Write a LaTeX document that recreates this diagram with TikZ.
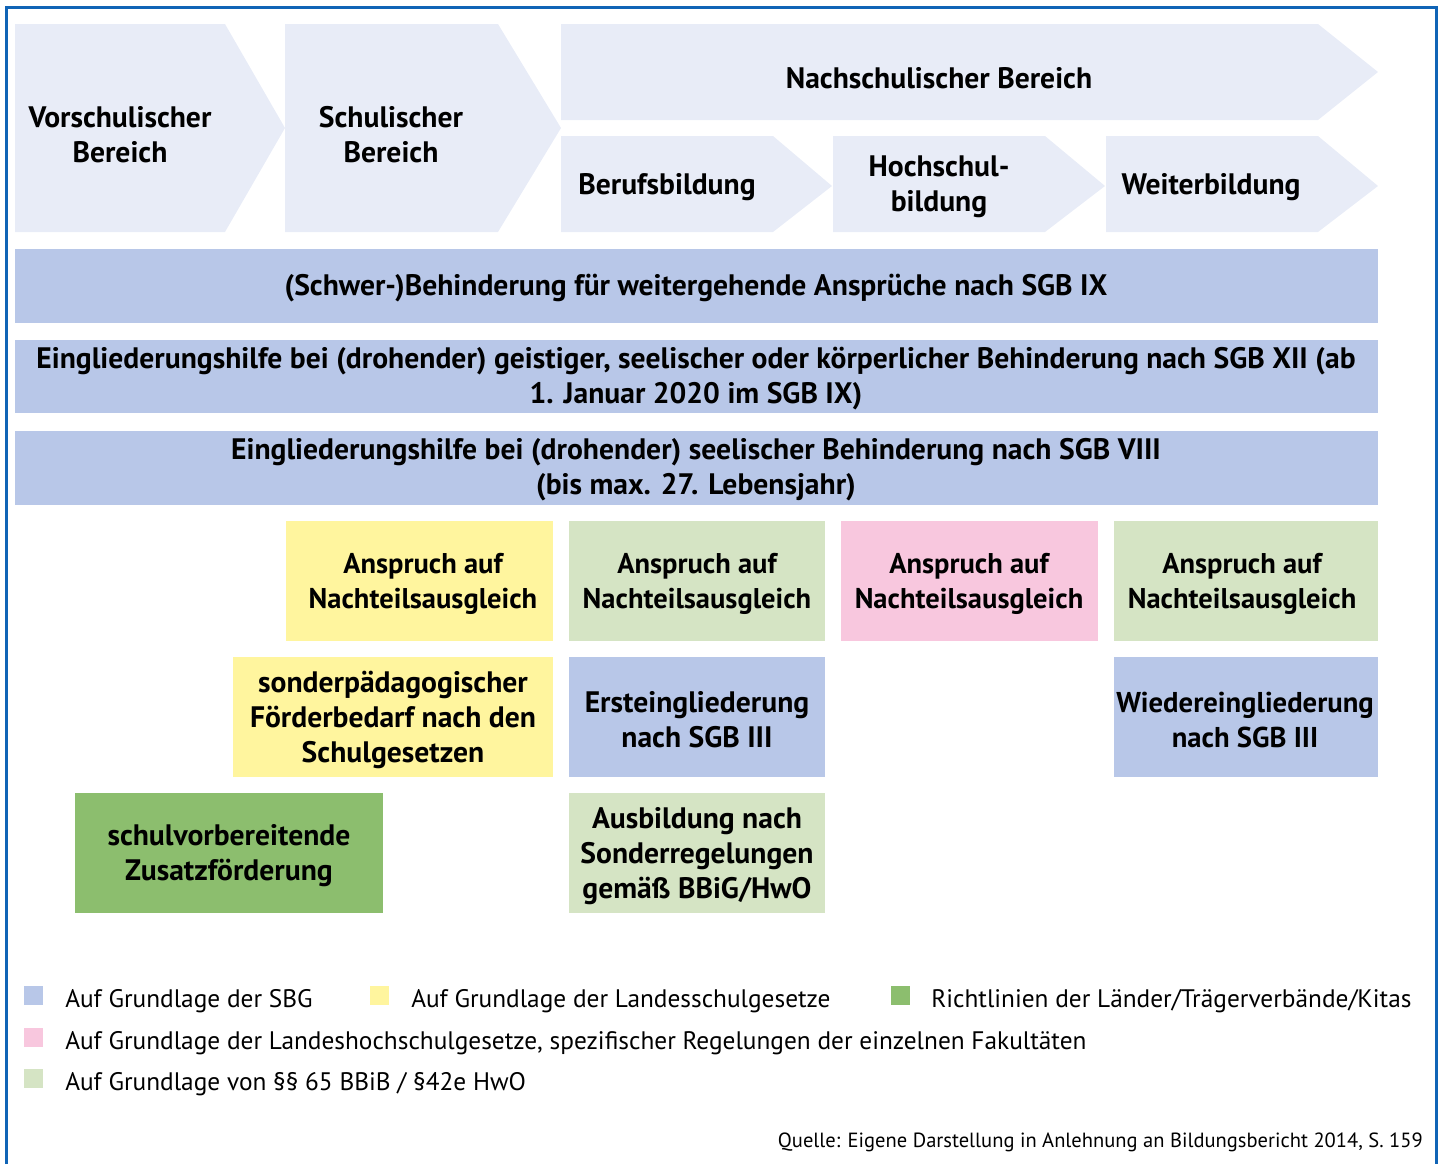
\documentclass[tikz,border=0pt]{standalone}
\usepackage{fontspec}
\setmainfont{PT Sans}
\definecolor{chevron}{RGB}{232,236,247}
\definecolor{sgbblue}{RGB}{184,199,232}
\definecolor{schulgelb}{RGB}{255,245,158}
\definecolor{hellgruen}{RGB}{213,228,196}
\definecolor{rosa}{RGB}{248,199,222}
\definecolor{dunkelgruen}{RGB}{140,190,110}
\definecolor{rahmen}{RGB}{16,100,182}

\begin{document}
\begin{tikzpicture}[x=0.75pt,y=0.75pt,yscale=-1,xscale=1,
  boxtext/.style={font=\bfseries\fontsize{22.2}{26.25}\selectfont, align=center, inner sep=0.75pt},
  ntatext/.style={boxtext, font=\bfseries\fontsize{21.4}{26.25}\selectfont},
  legtext/.style={font=\fontsize{19}{22}\selectfont, anchor=west, inner sep=0.75pt},
  legbox/.style={fill=#1, draw=none}]
\useasboundingbox (0,0) rectangle (1441,1164);

%Straight Lines [frame]
\draw [color=rahmen, line width=2.25]  (6,1164) -- (6,7) -- (1436,7) -- (1436,1164) ;

%Shape: Chevron [Vorschulischer Bereich]
\fill [chevron]  (15,24) -- (225,24) -- (285,128) -- (225,232) -- (15,232) -- cycle ;
%Shape: Chevron [Schulischer Bereich]
\fill [chevron]  (285,24) -- (498,24) -- (561,128) -- (498,232) -- (285,232) -- cycle ;
%Shape: Chevron [Nachschulischer Bereich]
\fill [chevron]  (561,24) -- (1318,24) -- (1378,72) -- (1318,120) -- (561,120) -- cycle ;
%Shape: Chevron [Berufsbildung]
\fill [chevron]  (561,136) -- (773,136) -- (832,186) -- (773,232) -- (561,232) -- cycle ;
%Shape: Chevron [Hochschulbildung]
\fill [chevron]  (833,136) -- (1045,136) -- (1105,186) -- (1045,232) -- (833,232) -- cycle ;
%Shape: Chevron [Weiterbildung]
\fill [chevron]  (1106,136) -- (1318,136) -- (1378,186) -- (1318,232) -- (1106,232) -- cycle ;

%Shape: Rectangle [bars]
\fill [sgbblue]  (15,249) rectangle (1378,323) ;
\fill [sgbblue]  (15,340) rectangle (1378,413) ;
\fill [sgbblue]  (15,431) rectangle (1378,505) ;

%Shape: Rectangle [row 1]
\fill [schulgelb]  (286,521) rectangle (553,641) ;
\fill [hellgruen]  (569,521) rectangle (825,641) ;
\fill [rosa]  (841,521) rectangle (1098,641) ;
\fill [hellgruen]  (1114,521) rectangle (1378,641) ;
%Shape: Rectangle [row 2]
\fill [schulgelb]  (233,657) rectangle (553,777) ;
\fill [sgbblue]  (569,657) rectangle (825,777) ;
\fill [sgbblue]  (1114,657) rectangle (1378,777) ;
%Shape: Rectangle [row 3]
\fill [dunkelgruen]  (75,793) rectangle (383,913) ;
\fill [hellgruen]  (569,793) rectangle (825,913) ;

% Text Node
\draw (120,135) node [boxtext] (vor) {Vorschulischer\\Bereich};
% Text Node
\draw (391,135) node [boxtext] (schul) {Schulischer\\Bereich};
% Text Node
\draw (939,78) node [boxtext] (nach) {Nachschulischer Bereich};
% Text Node
\draw (667,187) node [boxtext] (beruf) {Berufsbildung};
% Text Node
\draw (939,187) node [boxtext] (hoch) {Hochschul-\\bildung};
% Text Node
\draw (1211,187) node [boxtext] (weiter) {Weiterbildung};

% Text Node
\draw (696,288) node [boxtext] (schwer) {(Schwer-)Behinderung für weitergehende Ansprüche nach SGB IX};
% Text Node
\draw (696,379) node [boxtext] (xii) {Eingliederungshilfe bei (drohender) geistiger, seelischer oder körperlicher Behinderung nach SGB XII (ab\\1. Januar 2020 im SGB IX)};
% Text Node
\draw (696,470) node [boxtext] (viii) {Eingliederungshilfe bei (drohender) seelischer Behinderung nach SGB VIII\\(bis max. 27. Lebensjahr)};

% Text Node
\draw (423,584) node [ntatext] (nta1) {Anspruch auf\\Nachteilsausgleich};
% Text Node
\draw (697,584) node [ntatext] (nta2) {Anspruch auf\\Nachteilsausgleich};
% Text Node
\draw (969,584) node [ntatext] (nta3) {Anspruch auf\\Nachteilsausgleich};
% Text Node
\draw (1242,584) node [ntatext] (nta4) {Anspruch auf\\Nachteilsausgleich};
% Text Node
\draw (393,720) node [boxtext] (sonder) {sonderpädagogischer\\Förderbedarf nach den\\Schulgesetzen};
% Text Node
\draw (697,720) node [boxtext] (erst) {Ersteingliederung\\nach SGB III};
% Text Node
\draw (1245,720) node [boxtext, font=\bfseries\fontsize{21.5}{26.25}\selectfont] (wieder) {Wiedereingliederung\\nach SGB III};
% Text Node
\draw (229,856) node [boxtext] (zusatz) {schulvorbereitende\\Zusatzförderung};
% Text Node
\draw (697,856) node [boxtext] (ausb) {Ausbildung nach\\Sonderregelungen\\gemäß BBiG/HwO};

%Shape: Rectangle [legend]
\fill [legbox=sgbblue]  (24,986) rectangle (43,1005) ;
\fill [legbox=schulgelb]  (370,986) rectangle (389,1005) ;
\fill [legbox=dunkelgruen]  (891,986) rectangle (910,1005) ;
\fill [legbox=rosa]  (24,1028) rectangle (43,1047) ;
\fill [legbox=hellgruen]  (24,1069) rectangle (43,1088) ;
% Text Node
\draw (64,1001) node [legtext] (leg1) {Auf Grundlage der SBG};
% Text Node
\draw (410,1001) node [legtext] (leg2) {Auf Grundlage der Landesschulgesetze};
% Text Node
\draw (930,1001) node [legtext] (leg3) {Richtlinien der Länder/Trägerverbände/Kitas};
% Text Node
\draw (64,1043) node [legtext] (leg4) {Auf Grundlage der Landeshochschulgesetze, spezifischer Regelungen der einzelnen Fakultäten};
% Text Node
\draw (64,1084) node [legtext] (leg5) {Auf Grundlage von §§ 65 BBiB / §42e HwO};
% Text Node
\draw (1424,1142) node [anchor=east, inner sep=0.75pt, font=\fontsize{15.4}{18}\selectfont] (quelle) {Quelle: Eigene Darstellung in Anlehnung an Bildungsbericht 2014, S. 159};

\end{tikzpicture}
\end{document}
